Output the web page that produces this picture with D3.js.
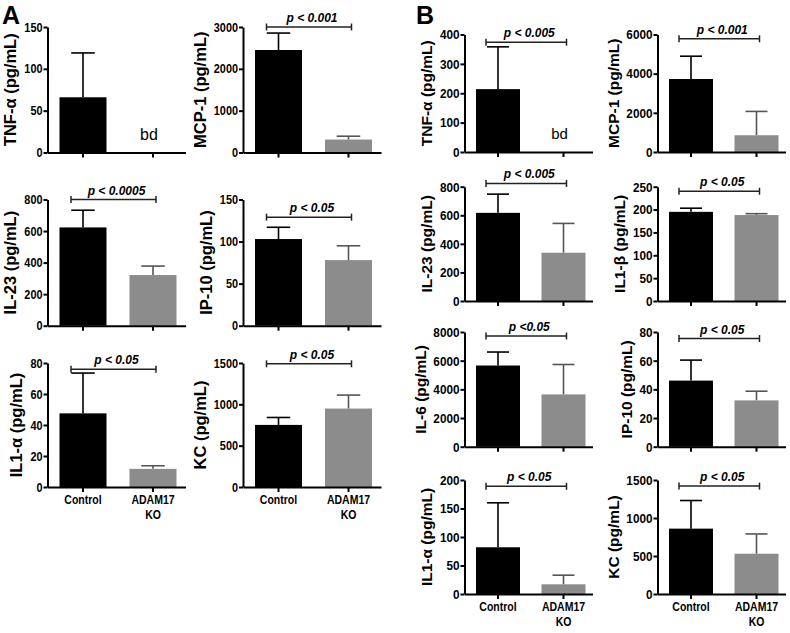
<!DOCTYPE html>
<html><head><meta charset="utf-8">
<script src="https://cdn.jsdelivr.net/npm/d3@7"></script>
<style>
body{margin:0;background:#fff}
svg text{font-family:"Liberation Sans",Arial,sans-serif;fill:#000}
</style></head><body>
<svg id="c" width="790" height="633"></svg>
<script>
// ---------- data ----------
const groups = ["Control", "ADAM17 KO"];

const cytokinesA   = ["TNF-α", "MCP-1", "IL-23", "IP-10", "IL1-α", "KC"];
const controlMeanA = [66, 2450, 623, 103, 47.5, 751];
const controlErrA  = [53, 405, 109, 14, 26, 90];
const koMeanA      = [null, 310, 321, 78, 11.7, 949];
const koErrA       = [null, 80, 57, 17, 2, 163];
const yMaxA        = [150, 3000, 800, 150, 80, 1500];
const yStepA       = [50, 1000, 200, 50, 20, 500];
const pLabelA      = [null, "p < 0.001", "p < 0.0005", "p < 0.05", "p < 0.05", "p < 0.05"];
const bracketA     = [null, 3000, 800, 129, 76, 1490];

const cytokinesB   = ["TNF-α", "MCP-1", "IL-23", "IL1-β", "IL-6", "IP-10", "IL1-α", "KC"];
const controlMeanB = [214, 3728, 617, 195, 5663, 46.1, 82, 860];
const controlErrB  = [144, 1164, 131, 8, 940, 14.3, 78, 370];
const koMeanB      = [null, 856, 338, 188, 3649, 32.3, 17, 530];
const koErrB       = [null, 1216, 205, 3, 2084, 6.4, 16, 260];
const yMaxB        = [400, 6000, 800, 250, 8000, 80, 200, 1500];
const yStepB       = [100, 2000, 200, 50, 2000, 20, 50, 500];
const pLabelB      = ["p < 0.005", "p < 0.001", "p < 0.005", "p < 0.05", "p <0.05", "p < 0.05", "p < 0.05", "p < 0.05"];
const bracketB     = [374, 5780, 823, 240, 7720, 75.4, 189, 1420];

// ---------- layout ----------
const layoutA = {cols:[47.5, 243], rowTop:[27, 199.5, 363], rowBottom:[152.5, 325.7, 487],
  offset:12, barW:47, gap:23, len:138, titleSize:16.5, tickSize:12.5, bdSize:16};
const layoutB = {cols:[464.5, 657.5], rowTop:[34.5, 186.7, 332, 480], rowBottom:[152, 301, 446.7, 594],
  offset:11.5, barW:44, gap:21.5, len:128, titleSize:15.5, tickSize:13.5, bdSize:15};

const colors = {Control:"#000", "ADAM17 KO":"#8c8c8c"};
const errColors = {Control:"#000", "ADAM17 KO":"#555"};

const svg = d3.select("#c");

// condense bold text (narrow face look)
function condense(sel, f) {
  sel.each(function() {
    const w = this.getComputedTextLength();
    if (w > 0) d3.select(this).attr("textLength", w * f).attr("lengthAdjust", "spacingAndGlyphs");
  });
}

function drawFigure(L, names, cm, ce, km, ke, ymax, ystep, plab, brk) {
  const nRows = L.rowTop.length;
  names.forEach((name, i) => {
    const row = Math.floor(i / 2), col = i % 2;
    const ax = L.cols[col], y0 = L.rowBottom[row], yt = L.rowTop[row];
    const g = svg.append("g");
    const y = d3.scaleLinear().domain([0, ymax[i]]).range([y0, yt]);
    const step = L.barW + L.gap;
    const outer = L.len - step - L.barW;
    const x = d3.scaleBand().domain(groups).range([ax, ax + L.len])
      .paddingInner(L.gap / step).paddingOuter(outer / (2 * step)).align(L.offset / outer);
    const bw = x.bandwidth();
    const vals = [{g:"Control", m:cm[i], e:ce[i]}, {g:"ADAM17 KO", m:km[i], e:ke[i]}];

    // error bars (upper only)
    vals.filter(d => d.m != null).forEach(d => {
      const cx = x(d.g) + bw / 2;
      g.append("line").attr("x1", cx).attr("x2", cx).attr("y1", y(d.m)).attr("y2", y(d.m + d.e))
        .attr("stroke", errColors[d.g]).attr("stroke-width", 1.6);
      g.append("line").attr("x1", cx - bw / 4).attr("x2", cx + bw / 4).attr("y1", y(d.m + d.e)).attr("y2", y(d.m + d.e))
        .attr("stroke", errColors[d.g]).attr("stroke-width", 1.6);
    });
    // bars
    g.selectAll("rect.bar").data(vals.filter(d => d.m != null)).join("rect")
      .attr("x", d => x(d.g)).attr("y", d => y(d.m)).attr("width", bw).attr("height", d => y0 - y(d.m))
      .attr("fill", d => colors[d.g]);
    // bd label
    vals.filter(d => d.m == null).forEach(d => {
      g.append("text").attr("x", x(d.g) + bw / 2 - 4).attr("y", y0 - 13).attr("text-anchor", "middle")
        .style("font-size", L.bdSize + "px").text("bd");
    });

    // y axis
    const ya = g.append("g").attr("transform", `translate(${ax},0)`)
      .call(d3.axisLeft(y).tickValues(d3.range(0, ymax[i] + ystep[i] / 2, ystep[i]))
        .tickFormat(d3.format("d")).tickSize(4).tickSizeOuter(0).tickPadding(1));
    ya.selectAll("text").style("font-size", L.tickSize + "px").style("font-weight", "bold")
      .style("font-family", "'Liberation Sans',Arial,sans-serif");
    condense(ya.selectAll("text"), 0.87);
    // x axis
    g.append("g").attr("transform", `translate(0,${y0})`)
      .call(d3.axisBottom(x).tickSize(5).tickSizeOuter(0).tickFormat(""));
    g.selectAll(".domain, .tick line").attr("stroke", "#000").attr("stroke-width", 2);

    // x labels on bottom row
    if (row === nRows - 1) {
      groups.forEach(gr => {
        const parts = gr.split(" ");
        const t = g.append("text").attr("text-anchor", "middle")
          .attr("x", x(gr) + bw / 2).attr("y", y0 + 17).style("font-size", "12.5px").style("font-weight", "bold");
        parts.forEach((p, k) => t.append("tspan").attr("x", x(gr) + bw / 2).attr("dy", k ? 14.5 : 0).text(p));
        condense(t.selectAll("tspan"), 0.84);
      });
    }

    // y title
    const bb = ya.node().getBBox();
    const tx = ax + bb.x - L.titleSize * 0.5;
    g.append("text").attr("transform", `translate(${tx},${(y0 + yt) / 2}) rotate(-90)`)
      .attr("text-anchor", "middle").style("font-size", L.titleSize + "px").style("font-weight", "bold")
      .text(name + " (pg/mL)");

    // significance bracket
    if (plab[i]) {
      const by = y(brk[i]);
      const x1 = x("Control") + bw / 2 - 12, x2 = x("ADAM17 KO") + bw / 2 + 3;
      g.append("line").attr("x1", x1).attr("x2", x2).attr("y1", by).attr("y2", by).attr("stroke", "#222").attr("stroke-width", 1.5);
      [x1, x2].forEach(xx => g.append("line").attr("x1", xx).attr("x2", xx).attr("y1", by - 3.5).attr("y2", by + 3.5)
        .attr("stroke", "#222").attr("stroke-width", 1.5));
      g.append("text").attr("x", (x1 + x2) / 2 + 3).attr("y", by - 5).attr("text-anchor", "middle")
        .style("font-size", "12px").style("font-weight", "bold").style("font-style", "italic").text(plab[i]);
    }
  });
}

drawFigure(layoutA, cytokinesA, controlMeanA, controlErrA, koMeanA, koErrA, yMaxA, yStepA, pLabelA, bracketA);
drawFigure(layoutB, cytokinesB, controlMeanB, controlErrB, koMeanB, koErrB, yMaxB, yStepB, pLabelB, bracketB);

svg.append("text").attr("x", 2).attr("y", 23.5).style("font-size", "25px").style("font-weight", "bold").text("A");
svg.append("text").attr("x", 416).attr("y", 23.5).style("font-size", "25px").style("font-weight", "bold").text("B");
</script>
</body></html>
